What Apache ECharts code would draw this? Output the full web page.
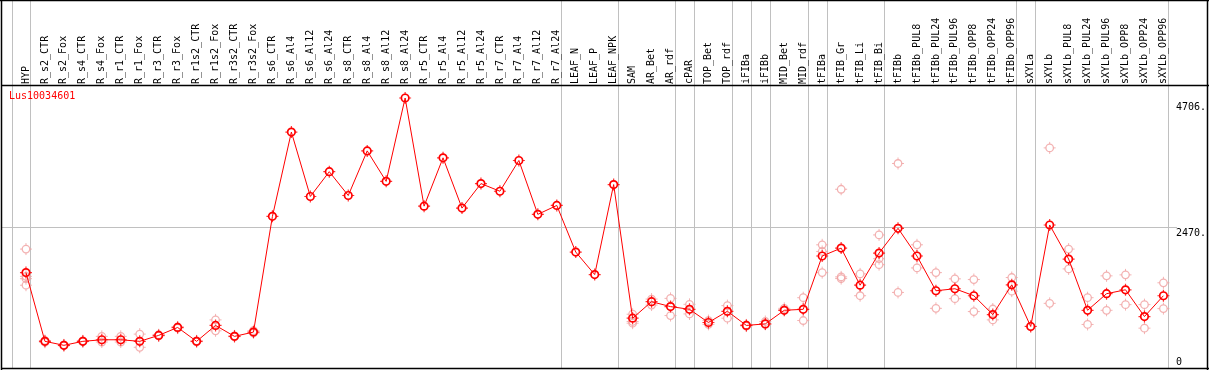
<!DOCTYPE html>
<html>
<head>
<meta charset="utf-8">
<script src="https://cdn.jsdelivr.net/npm/echarts@6/dist/echarts.min.js"></script>
<style>
html,body{margin:0;padding:0;background:#fff;}
#c{width:1209px;height:370px;}
</style>
</head>
<body>
<div id="c"></div>
<script>
const geneName = 'Lus10034601';
const categories = ['HYP','R_s2_CTR','R_s2_Fox','R_s4_CTR','R_s4_Fox','R_r1_CTR','R_r1_Fox','R_r3_CTR','R_r3_Fox','R_r1s2_CTR','R_r1s2_Fox','R_r3s2_CTR','R_r3s2_Fox','R_s6_CTR','R_s6_Al4','R_s6_Al12','R_s6_Al24','R_s8_CTR','R_s8_Al4','R_s8_Al12','R_s8_Al24','R_r5_CTR','R_r5_Al4','R_r5_Al12','R_r5_Al24','R_r7_CTR','R_r7_Al4','R_r7_Al12','R_r7_Al24','LEAF_N','LEAF_P','LEAF_NPK','SAM','AR_Bet','AR_rdf','cPAR','TOP_Bet','TOP_rdf','iFIBa','iFIBb','MID_Bet','MID_rdf','tFIBa','tFIB_Gr','tFIB_Li','tFIB_Bi','tFIBb','tFIBb_PUL8','tFIBb_PUL24','tFIBb_PUL96','tFIBb_OPP8','tFIBb_OPP24','tFIBb_OPP96','sXYLa','sXYLb','sXYLb_PUL8','sXYLb_PUL24','sXYLb_PUL96','sXYLb_OPP8','sXYLb_OPP24','sXYLb_OPP96'];
const meanValues = [1685,496,427,496,523,523,496,599,736,496,771,582,656,2658,4117,3002,3431,3019,3791,3264,4706,2835,3671,2801,3225,3093,3625,2693,2847,2041,1651,3208,896,1182,1097,1050,822,1016,771,798,1033,1050,1972,2109,1467,2023,2452,1972,1371,1406,1285,959,1474,753,2509,1920,1033,1320,1388,925,1285];
const replicateValues = [
 [2092,1620,1580,1467],[510,480],[420,435],[505,490],[582,484],[582,484],[621,393],[610,590],[745,725],[505,488],[867,678],[590,575],[680,640],
 [],[],[],[],[],[],[],[],[],[],[],[],[],[],[],[],[],[],[],
 [965,839,810],[1227,1124],[1239,942],[1136,970],[855,790],[1114,896],[780,760],[839,790],[1067,1040],[1251,856],
 [2166,2051,1685],[3127,1611,1582],[1663,1285],[2337,1926,1823],[3573,1342],[2166,1766],[1685,1067],[1577,1234],[1565,1011],[1055,867],[1600,1364],
 [760],[3843,1153],[2092,1749],[1251,788],[1629,1033],[1646,1131],[1131,724],[1509,1062]
];
const yTickValues = [0, 2470, 4706];
const yMax = 4706;
const separatorAfter = [-1,0,28,31,34,35,37,38,39,41,42,45,52,53,60];
const gridLineValue = 2470;

const FONT = 'DejaVu Sans Mono';
const stubs = 'path://M6,0L6,2.2M6,9.8L6,12M0,6L2.2,6M9.8,6L12,6';

const repData = [];
replicateValues.forEach((arr, i) => arr.forEach(v => repData.push([i, v])));

const chart = echarts.init(document.getElementById('c'), null, {renderer: 'canvas'});
chart.setOption({
  animation: false,
  backgroundColor: '#fff',
  title: {
    text: geneName, left: 9, top: 91, padding: 0,
    textStyle: {color: '#ff0000', fontFamily: FONT, fontSize: 10, fontWeight: 'normal'}
  },
  grid: {left: 16.5, width: 1159, top: 98, height: 274.2, containLabel: false},
  xAxis: {
    type: 'category', data: categories, position: 'top', boundaryGap: true,
    axisLine: {show: false}, axisTick: {show: false}, splitLine: {show: false},
    axisLabel: {rotate: 90, interval: 0, margin: 14, color: '#000', fontFamily: FONT, fontSize: 10}
  },
  yAxis: {
    type: 'value', min: 0, max: yMax, position: 'right',
    axisLine: {show: false}, axisTick: {show: false}, splitLine: {show: false},
    axisLabel: {
      customValues: yTickValues, margin: 3, color: '#000', fontFamily: FONT, fontSize: 10,
      verticalAlign: 'middle',
      formatter: v => v === 0 ? '{b|0}' : (v === yMax ? '{t|' + v + '.}' : '{m|' + v + '.}'),
      rich: {
        t: {fontFamily: FONT, fontSize: 10, padding: [19, 0, 0, 0]},
        m: {fontFamily: FONT, fontSize: 10, padding: [12, 0, 0, 0]},
        b: {fontFamily: FONT, fontSize: 10, padding: [0, 0, 15, 0]}
      }
    }
  },
  series: [
    {
      type: 'scatter', data: repData, symbol: 'circle', symbolSize: 7.5, z: 2,
      itemStyle: {color: 'rgba(0,0,0,0)', borderColor: '#f0a0a0', borderWidth: 1.3},
      silent: true
    },
    {
      type: 'scatter', data: repData, symbol: stubs, symbolSize: 12, z: 2,
      itemStyle: {color: 'rgba(0,0,0,0)', borderColor: '#f0a0a0', borderWidth: 1},
      silent: true
    },
    {
      type: 'line', data: meanValues, symbol: 'circle', symbolSize: 7.5, z: 3,
      showAllSymbol: true, clip: false,
      lineStyle: {color: '#ff0000', width: 1},
      itemStyle: {color: 'rgba(0,0,0,0)', borderColor: '#ff0000', borderWidth: 1.7},
      silent: true
    },
    {
      type: 'scatter', data: meanValues.map((v, i) => [i, v]), symbol: stubs, symbolSize: 12, z: 3,
      itemStyle: {color: 'rgba(0,0,0,0)', borderColor: '#ff0000', borderWidth: 1.2},
      silent: true
    }
  ]
});

const x0 = chart.convertToPixel({xAxisIndex: 0}, categories[0]);
const x1 = chart.convertToPixel({xAxisIndex: 0}, categories[1]);
const step = x1 - x0;
const graphics = [];
separatorAfter.forEach(s => {
  const x = Math.round(x0 + s * step + 4.5) + 0.5;
  graphics.push({type: 'line', z: 0, silent: true, shape: {x1: x, y1: 1, x2: x, y2: 368},
    style: {stroke: '#c0c0c0', lineWidth: 1}});
});
const gy = Math.round(chart.convertToPixel({yAxisIndex: 0}, gridLineValue)) + 0.5;
graphics.push({type: 'line', z: 0, silent: true, shape: {x1: 1, y1: gy, x2: 1177, y2: gy},
  style: {stroke: '#c0c0c0', lineWidth: 1}});
const frame = [
  [1.5, 0, 1.5, 370], [0, 0.5, 1209, 0.5], [1, 85.5, 1209, 85.5], [1, 368.5, 1209, 368.5], [1207.5, 0, 1207.5, 370]
];
frame.forEach(f => graphics.push({type: 'line', z: 10, silent: true,
  shape: {x1: f[0], y1: f[1], x2: f[2], y2: f[3]}, style: {stroke: '#000', lineWidth: 1.5}}));
chart.setOption({graphic: graphics});
</script>
</body>
</html>
